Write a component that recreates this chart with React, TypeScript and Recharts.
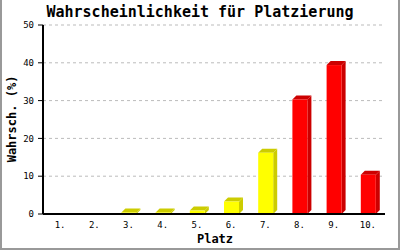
import { BarChart, Bar, XAxis, YAxis, CartesianGrid, Cell, Customized } from 'recharts'

const places = ['1.', '2.', '3.', '4.', '5.', '6.', '7.', '8.', '9.', '10.']
const chances = [0, 0, 0.4, 0.4, 0.9, 3.3, 16.2, 30.3, 39.4, 10.4]
const yTicks = [0, 10, 20, 30, 40, 50]
// places from here on are drawn in red, the rest in yellow
const RED_FROM = 7

const FRONT = { yellow: '#ffff00', red: '#ff0000' }
const SHADE: Record<string, string> = { '#ffff00': '#cccc00', '#ff0000': '#cc0000' }
const MONO = '"DejaVu Sans Mono", monospace'

const data = places.map((place, i) => ({ place, chance: chances[i] }))

// box with a darker top and right side, like the old gd 3d bars
function Box3D(props: any) {
  const { x, y, width, height, fill } = props
  if (!height || height <= 0) return null
  const d = 4
  const dark = SHADE[fill] || fill
  return (
    <g>
      <polygon
        points={`${x},${y} ${x + d},${y - d} ${x + width + d},${y - d} ${x + width},${y}`}
        fill={dark}
      />
      <polygon
        points={`${x + width},${y} ${x + width + d},${y - d} ${x + width + d},${y + height - d} ${x + width},${y + height}`}
        fill={dark}
      />
      <rect x={x} y={y} width={width} height={height} fill={fill} />
    </g>
  )
}

function Decor() {
  return (
    <g>
      <text x={200} y={17} textAnchor="middle" fontFamily={MONO} fontWeight="bold" fontSize={15} fill="#000">
        Wahrscheinlichkeit für Platzierung
      </text>
      <text x={215} y={243} textAnchor="middle" fontFamily={MONO} fontWeight="bold" fontSize={12} fill="#000">
        Platz
      </text>
      <text
        x={16}
        y={119}
        textAnchor="middle"
        transform="rotate(-90 16 119)"
        fontFamily={MONO}
        fontWeight="bold"
        fontSize={12}
        fill="#000"
      >
        Wahrsch. (%)
      </text>
      <rect x={0} y={0} width={2} height={250} fill="#999" />
      <rect x={398} y={0} width={2} height={250} fill="#999" />
      <rect x={0} y={248} width={400} height={2} fill="#999" />
    </g>
  )
}

export default function App() {
  return (
    <div style={{ position: 'absolute', left: 0, top: 0, width: 400, height: 250, background: '#fff' }}>
      <BarChart width={400} height={250} data={data} margin={{ top: 25, right: 15, left: 0, bottom: 0 }}>
        <CartesianGrid vertical={false} stroke="#bbbbbb" strokeDasharray="3 3" />
        <XAxis
          dataKey="place"
          height={36}
          interval={0}
          tickLine={false}
          axisLine={{ stroke: '#000', strokeWidth: 2 }}
          tick={{ fill: '#000', fontSize: 9, fontFamily: MONO }}
        />
        <YAxis
          width={43}
          domain={[0, 50]}
          ticks={yTicks}
          tickSize={5}
          tickMargin={4}
          axisLine={{ stroke: '#000', strokeWidth: 2 }}
          tickLine={{ stroke: '#000' }}
          tick={{ fill: '#000', fontSize: 9, fontFamily: MONO }}
        />
        <YAxis
          yAxisId="r"
          orientation="right"
          width={0}
          domain={[0, 50]}
          tick={false}
          tickLine={false}
          axisLine={{ stroke: '#000', strokeWidth: 2 }}
        />
        <Bar dataKey="chance" barSize={15} isAnimationActive={false} shape={(p: any) => <Box3D {...p} />}>
          {data.map((_, i) => (
            <Cell key={i} fill={i >= RED_FROM ? FRONT.red : FRONT.yellow} />
          ))}
        </Bar>
        <Customized component={<Decor />} />
      </BarChart>
    </div>
  )
}
